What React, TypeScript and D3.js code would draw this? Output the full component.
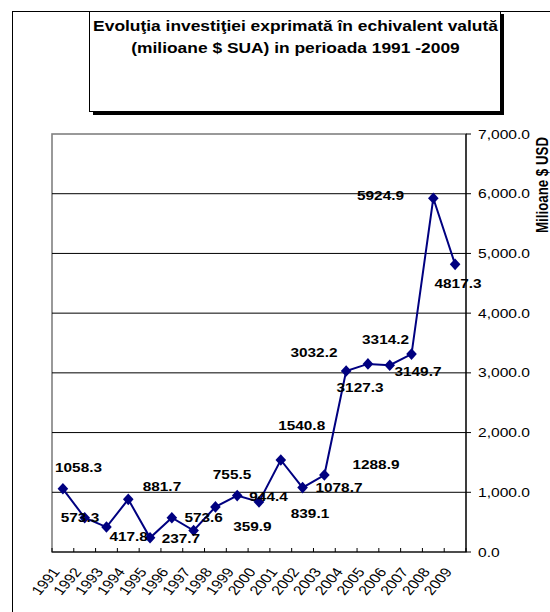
import React from "react";
import * as d3 from "d3";

const years = ["1991","1992","1993","1994","1995","1996","1997","1998","1999","2000","2001","2002","2003","2004","2005","2006","2007","2008","2009"];
const values = [1058.3,573.3,417.8,881.7,237.7,573.6,359.9,755.5,944.4,839.1,1540.8,1078.7,1288.9,3032.2,3149.7,3127.3,3314.2,5924.9,4817.3];
const yTicks = [0,1000,2000,3000,4000,5000,6000,7000];
const titleLines = ["Evoluţia investiţiei exprimată în echivalent valută","(milioane $ SUA) in perioada 1991 -2009"];
const axisTitle = "Milioane $ USD";
// label offsets (px) from each point, as placed in the original chart
const labelDx = [15.6,-4.7,22.2,33.7,30.9,31.8,58.8,16.6,31.3,51,20.9,36.4,51.6,-32.2,50,-29.7,-26,-52.8,2.9];
const labelDy = [-17.1,4.2,13.6,-8.7,4.9,4.5,0.2,-27.9,5.4,15.8,-30,4.7,-5.7,-14.2,11.8,27,-10,1.8,23.9];

const SX = 1.2;
const FONT = "'Liberation Sans', Arial, sans-serif";

export default function App() {
  const left = 52, right = 466, top = 134, bottom = 552;
  const x = d3.scaleBand<string>().domain(years).range([left, right]).padding(0);
  const y = d3.scaleLinear().domain([0, 7000]).range([bottom, top]);
  const cx = (i: number) => (x(years[i]) as number) + x.bandwidth() / 2;
  const line = d3.line<number>().x((_, i) => cx(i)).y((v) => y(v));
  const fmt = d3.format(",.1f");
  const diamond = "M0,-5.8L5.3,0L0,5.8L-5.3,0Z";
  const boundaries = d3.range(years.length + 1).map((i) => left + i * x.bandwidth());

  return (
    <svg width={550} height={612} style={{ position: "absolute", left: 0, top: 0, background: "#fff" }} fontFamily={FONT}>
      <rect x={0} y={0} width={550} height={612} fill="#fff" />
      {/* outer chart border */}
      <rect x={12.5} y={11.5} width={700} height={700} fill="none" stroke="#000" strokeWidth={1} />
      {/* title box with shadow */}
      <rect x={93} y={14} width={411} height={101} fill="#000" />
      <rect x={89.5} y={11.5} width={411} height={100} fill="#fff" stroke="#000" strokeWidth={1} />
      {titleLines.map((t, i) => (
        <g key={i} transform={`translate(295.5,${31 + i * 22}) scale(${SX},1)`}>
          <text textAnchor="middle" fontWeight="bold" fontSize={14.5} fill="#000">{t}</text>
        </g>
      ))}
      {/* plot area */}
      <rect x={left} y={top} width={right - left} height={bottom - top} fill="#fff" stroke="#808080" strokeWidth={1.6} />
      {yTicks.filter((t) => t > 0 && t < 7000).map((t) => (
        <line key={t} x1={left} x2={right} y1={y(t)} y2={y(t)} stroke="#000" strokeWidth={1} />
      ))}
      {/* x axis */}
      <line x1={left} x2={right} y1={bottom} y2={bottom} stroke="#000" strokeWidth={1.2} />
      {boundaries.map((b, i) => (
        <line key={i} x1={b} x2={b} y1={bottom} y2={bottom - 4} stroke="#000" strokeWidth={1} />
      ))}
      {years.map((yr, i) => (
        <g key={yr} transform={`translate(${cx(i) - 2.5},${bottom + 20}) scale(${SX},1) rotate(-54)`}>
          <text textAnchor="end" fontSize={13.3} fill="#000">{yr}</text>
        </g>
      ))}
      {/* right y axis */}
      <line x1={right} x2={right} y1={top} y2={bottom} stroke="#000" strokeWidth={1.2} />
      {yTicks.map((t) => (
        <g key={t}>
          <line x1={right} x2={right + 5} y1={y(t)} y2={y(t)} stroke="#000" strokeWidth={1} />
          <g transform={`translate(${right + 12},${y(t) + 4.5}) scale(${SX},1)`}>
            <text fontSize={13} fill="#000">{fmt(t)}</text>
          </g>
        </g>
      ))}
      <g transform={`translate(548,185) scale(${SX},1) rotate(-90)`}>
        <text textAnchor="middle" fontWeight="bold" fontSize={13.3} fill="#000">{axisTitle}</text>
      </g>
      {/* series */}
      <path d={line(values) || ""} fill="none" stroke="#000080" strokeWidth={2} />
      {values.map((v, i) => (
        <path key={i} d={diamond} transform={`translate(${cx(i)},${y(v)})`} fill="#000080" />
      ))}
      {values.map((v, i) => (
        <g key={i} transform={`translate(${cx(i) + labelDx[i]},${y(v) + labelDy[i]}) scale(${SX},1)`}>
          <text textAnchor="middle" fontWeight="bold" fontSize={12.8} fill="#000">{v.toFixed(1)}</text>
        </g>
      ))}
    </svg>
  );
}
